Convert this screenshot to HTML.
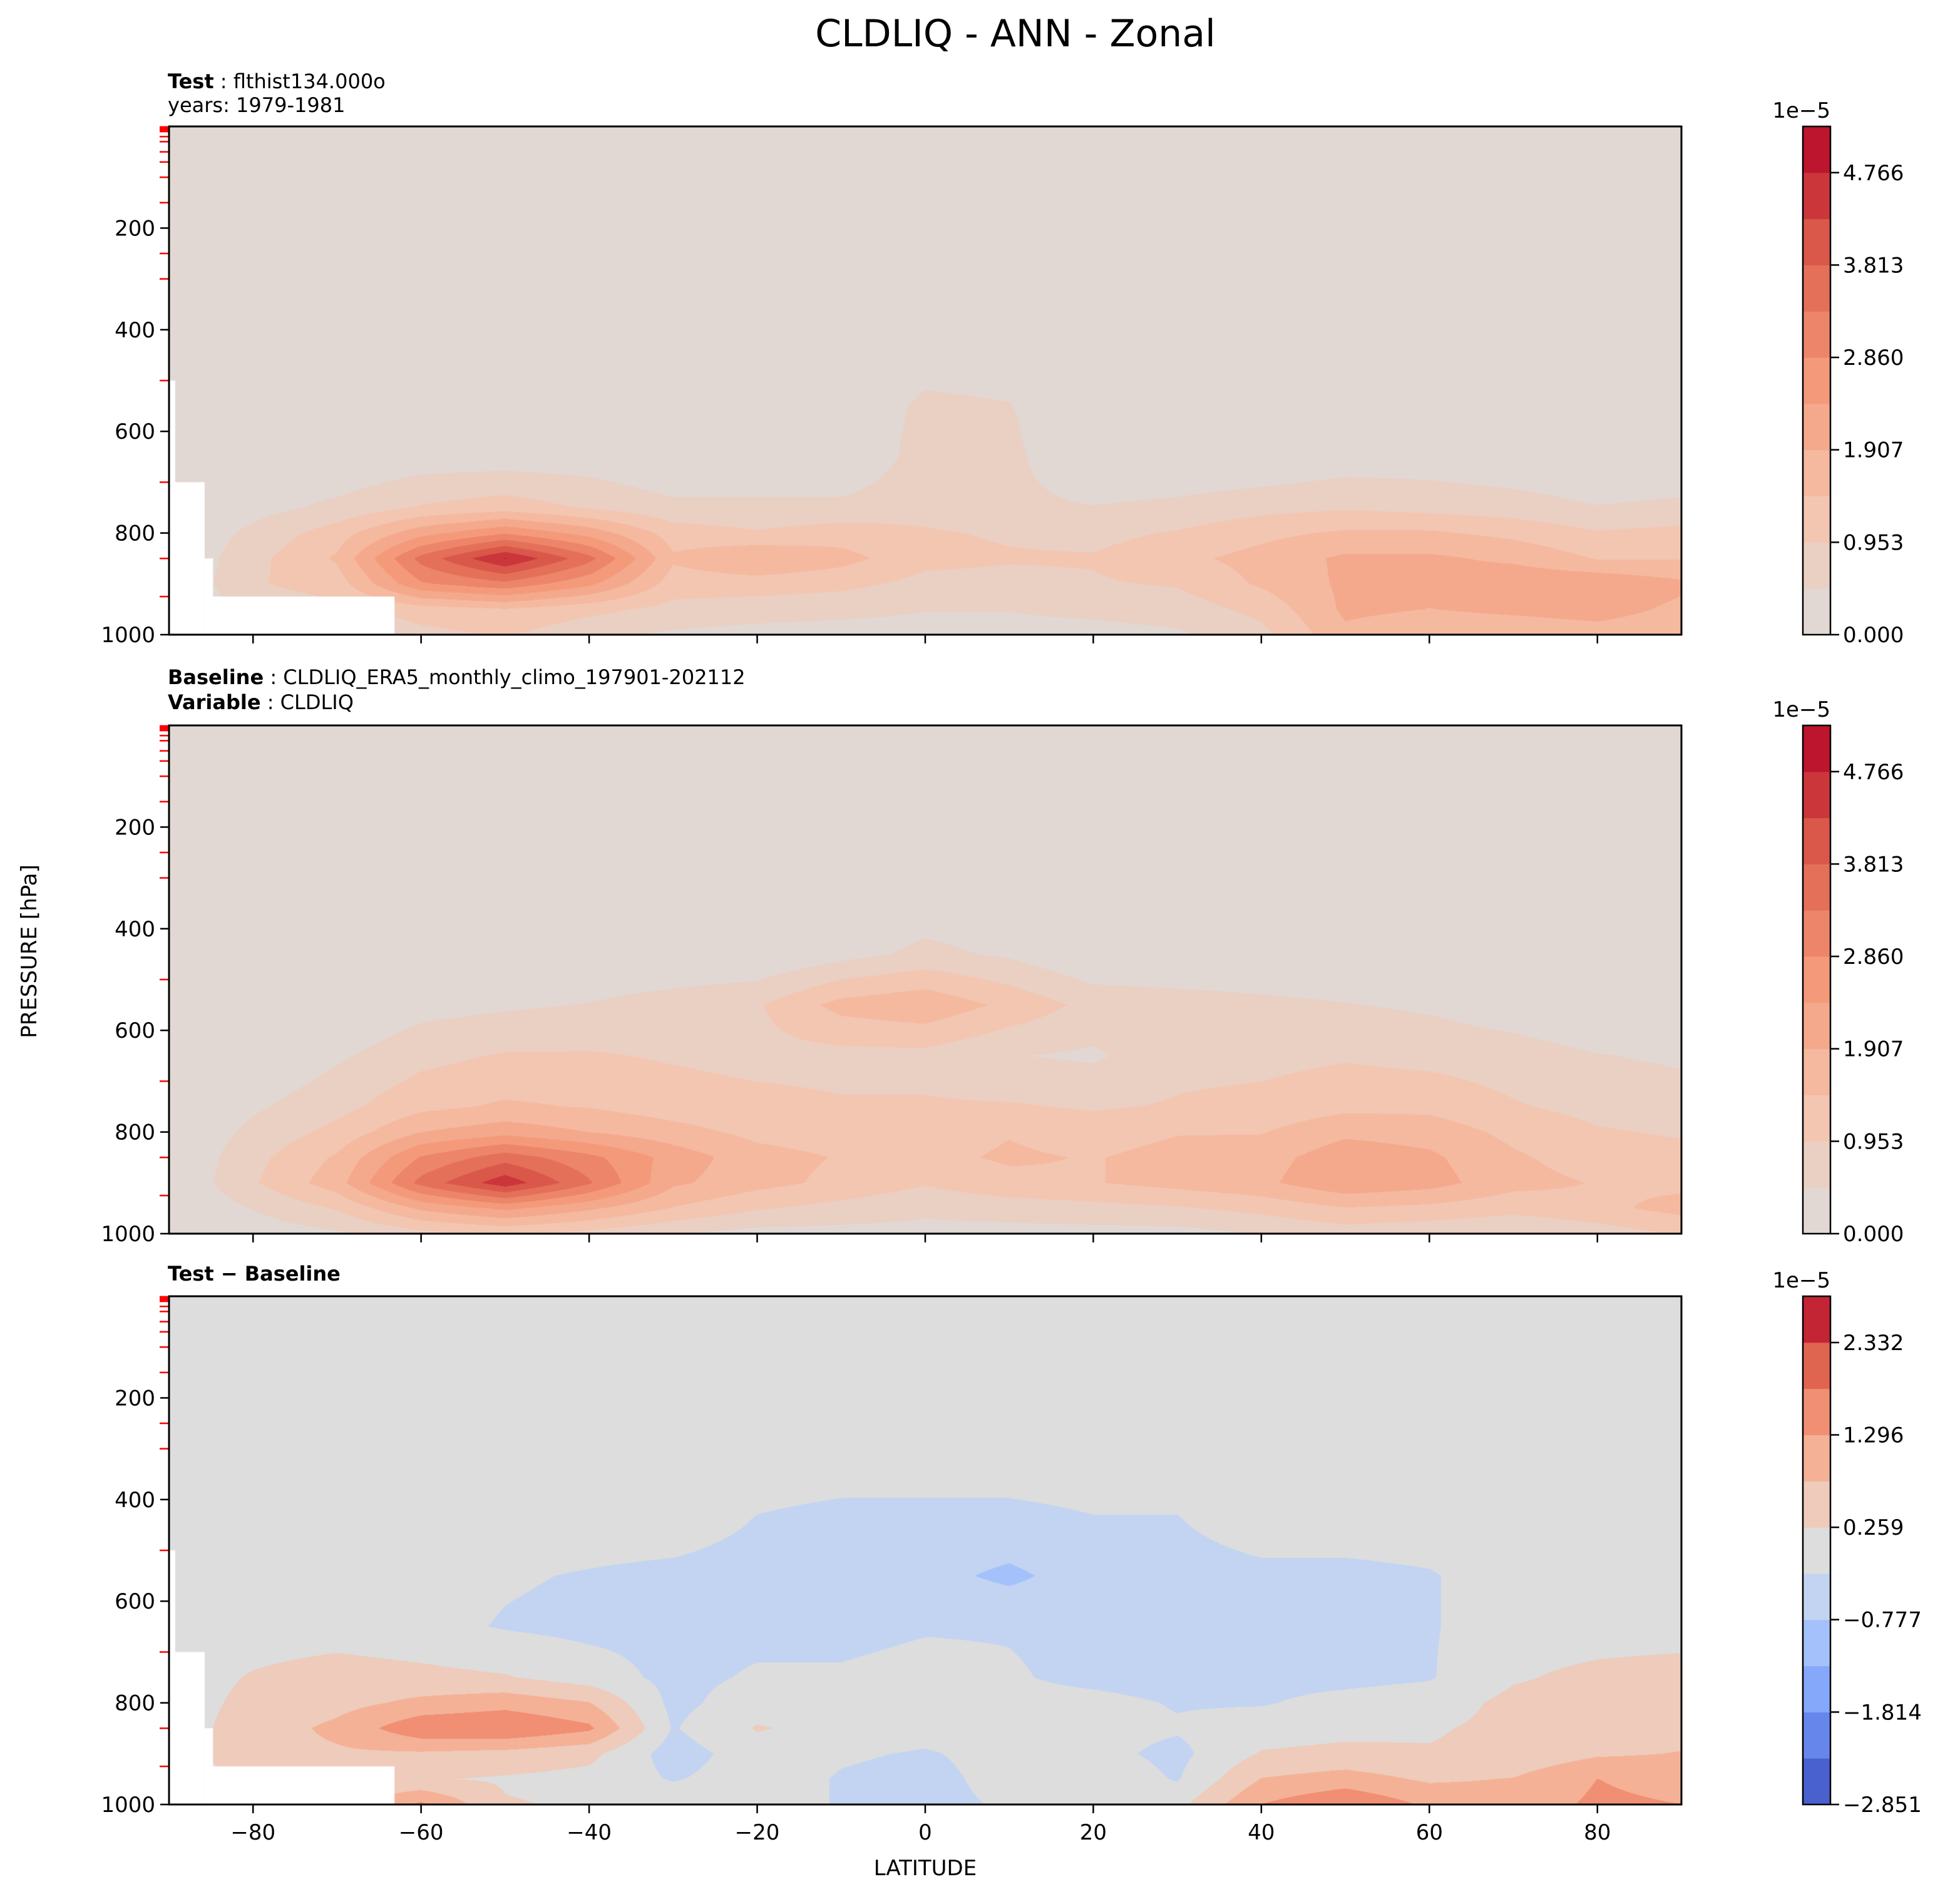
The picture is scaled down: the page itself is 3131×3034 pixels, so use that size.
<!DOCTYPE html>
<html><head><meta charset="utf-8">
<style>
html,body{margin:0;padding:0;background:#fff;}
#root{position:relative;width:3131px;height:3034px;overflow:hidden;background:#fff;}
canvas{position:absolute;}
svg{position:absolute;left:0;top:0;}
text{font-family:"DejaVu Sans","Liberation Sans",sans-serif;fill:#000;}
</style></head>
<body>
<div id="root">
<canvas id="c1" width="2416" height="812" style="left:270px;top:202px"></canvas>
<canvas id="c2" width="2416" height="812" style="left:270px;top:1159px"></canvas>
<canvas id="c3" width="2416" height="812" style="left:270px;top:2071px"></canvas>
<svg id="ov" width="3131" height="3034"></svg>
</div>
<script>
// ---- data (units 1e-5), rows = pressure levels, columns = latitudes ----
const lats = [-90,-80,-70,-60,-50,-40,-30,-20,-10,0,10,20,30,40,50,60,70,80,90];
const plevs = [0,300,450,550,650,750,800,850,900,950,1000];
const testField = [
 [0,0,0,0,0,0,0,0,0,0,0,0,0,0,0,0,0,0,0],
 [0,0,0,0,0,0,0,0,0,0,0,0,0,0,0,0,0,0,0],
 [0,0,0,0,0,0,0,0,0,0.2,0.2,0,0,0,0,0,0,0,0],
 [0,0,0,0,0,0,0,0,0,0.6,0.5,0,0,0,0,0,0,0,0],
 [0,0,0,0.2,0.2,0.2,0,0,0,0.7,0.6,0,0,0,0.2,0.2,0.1,0,0],
 [0,0.3,0.6,1.0,1.2,0.9,0.6,0.6,0.6,0.8,0.6,0.5,0.6,0.8,0.9,0.8,0.7,0.5,0.6],
 [0,0.6,1.2,2.2,2.8,2.2,1.2,1.0,1.2,1.0,0.9,0.8,1.0,1.3,1.5,1.5,1.3,1.0,1.1],
 [0,0.8,1.5,3.5,4.8,3.5,1.5,1.9,1.6,1.1,1.0,1.0,1.3,1.6,2.0,2.0,1.8,1.4,1.4],
 [0,0.9,1.2,2.8,3.2,2.5,1.2,1.2,1.1,0.8,0.8,0.9,1.0,1.5,2.0,2.0,2.3,2.3,2.0],
 [0,0.6,0.8,1.2,1.4,1.1,0.8,0.7,0.6,0.5,0.5,0.6,0.7,1.1,2.0,1.9,2.0,2.1,1.8],
 [0,0.3,0.4,0.8,1.0,0.6,0.4,0.3,0.3,0.3,0.3,0.3,0.4,0.8,1.8,1.6,1.6,1.7,1.6]
];
const baseField = [
 [0,0,0,0,0,0,0,0,0,0,0,0,0,0,0,0,0,0,0],
 [0,0,0,0,0,0,0,0,0,0,0,0,0,0,0,0,0,0,0],
 [0,0,0,0,0,0,0,0,0.3,0.6,0.4,0,0,0,0,0,0,0,0],
 [0,0,0,0.3,0.4,0.5,0.7,0.9,1.6,1.8,1.3,0.8,0.7,0.6,0.5,0.4,0.2,0,0],
 [0,0,0.4,0.8,1.0,1.0,0.9,0.8,0.8,0.8,0.5,0.4,0.8,0.8,0.9,0.8,0.7,0.5,0.4],
 [0,0.4,0.8,1.3,1.5,1.4,1.2,1.1,1.0,1.0,1.0,0.9,1.0,1.1,1.3,1.3,1.0,0.8,0.7],
 [0,0.6,1.1,1.9,2.2,1.9,1.6,1.3,1.2,1.2,1.4,1.2,1.4,1.4,1.8,1.7,1.3,1.0,0.9],
 [0,0.8,1.5,2.9,3.6,3.0,2.2,1.6,1.4,1.3,1.5,1.4,1.6,1.7,2.2,2.0,1.5,1.2,1.1],
 [0,0.9,1.7,3.5,4.6,3.4,2.0,1.6,1.3,1.0,1.3,1.4,1.6,1.8,2.3,2.1,1.6,1.4,1.3],
 [0,0.5,1.0,2.0,2.5,2.0,1.4,1.0,0.8,0.6,0.7,0.8,0.9,1.1,1.4,1.3,1.1,1.3,1.6],
 [0,0.2,0.4,0.8,1.0,0.8,0.5,0.3,0.3,0.3,0.3,0.3,0.3,0.5,0.7,0.6,0.5,0.7,1.0]
];
const diffField = [
 [0,0,0,0,0,0,0,0,0,0,0,0,0,0,0,0,0,0,0],
 [0,0,0,0,0,0,0,0,0,0,0,0,0,0,0,0,0,0,0],
 [0,0,0,0,0,0,0,-0.3,-0.4,-0.4,-0.4,-0.3,-0.3,0,0,0,0,0,0],
 [0,0,0,0,-0.2,-0.3,-0.4,-0.5,-0.7,-0.6,-0.9,-0.5,-0.5,-0.4,-0.4,-0.3,0,0,0],
 [0,0,0,-0.1,-0.3,-0.4,-0.4,-0.4,-0.4,-0.3,-0.3,-0.4,-0.4,-0.4,-0.4,-0.3,0,0,0],
 [0,0.3,0.5,0.4,0.3,0.0,-0.4,-0.2,-0.2,-0.1,-0.2,-0.4,-0.5,-0.4,-0.4,-0.3,0.2,0.4,0.5],
 [0,0.4,0.6,0.9,1.1,0.8,-0.4,0,0,0,-0.1,-0.1,-0.3,-0.3,-0.1,0,0.4,0.5,0.6],
 [0,0.5,0.9,1.7,1.8,1.4,-0.3,0.3,0.1,-0.1,0,-0.1,-0.2,0,0.1,0.2,0.4,0.5,0.6],
 [0,0.6,0.7,0.7,0.6,0.4,-0.5,0,-0.2,-0.3,-0.1,-0.1,-0.4,0.3,0.4,0.3,0.4,0.7,0.8],
 [0,0.3,0.4,0.3,0.2,0.1,-0.3,0,-0.3,-0.4,-0.1,0.1,-0.3,0.8,1.0,0.7,0.8,1.3,1.1],
 [0,0.2,0.5,1.4,0.3,0.2,0.1,0,-0.3,-0.4,-0.2,0.1,0.1,1.3,1.8,1.2,1.0,1.4,1.3]
];
const absEdges = [0,0.4766,0.9532,1.4298,1.9064,2.383,2.8596,3.3362,3.8128,4.2894,4.766,5.2426];
const absTicks = [0,0.953,1.907,2.860,3.813,4.766];
const absTickLabels = ["0.000","0.953","1.907","2.860","3.813","4.766"];
const diffEdges = [-2.851,-2.3326,-1.8142,-1.2958,-0.7774,-0.259,0.2594,0.7778,1.2962,1.8146,2.333,2.8514];
const diffTicks = [-2.851,-1.814,-0.777,0.259,1.296,2.332];
const diffTickLabels = ["\u22122.851","\u22121.814","\u22120.777","0.259","1.296","2.332"];
const yTicks = [200,400,600,800,1000];
const xTicks = [-80,-60,-40,-20,0,20,40,60,80];
const modelLevels = [1,2,3,4,5,7,10,20,30,50,70,100,150,250,300,500,700,850,925];
const maskSteps = [[-90,-89.3,500],[-89.3,-85.8,700],[-85.8,-84.8,850],[-84.8,-63.2,925]];

// ---- colormap ----
const cwAnch=[[0,59,76,192],[0.125,98,130,234],[0.25,141,176,254],[0.375,184,208,249],[0.5,221,221,221],[0.625,245,196,173],[0.75,244,154,123],[0.875,222,96,77],[1,180,4,38]];
function cw(t){for(let i=0;i<cwAnch.length-1;i++){const a=cwAnch[i],b=cwAnch[i+1];if(t<=b[0]){const f=(t-a[0])/(b[0]-a[0]);return [0,1,2].map(k=>Math.round(a[k+1]+(b[k+1]-a[k+1])*f));}}return [180,4,38];}
function binColors(n,half){const out=[];for(let i=0;i<n;i++){const f=(i+0.5)/n;out.push(half?cw(0.5+0.5*f):cw(f));}return out;}
const absColors=binColors(absEdges.length-1,true);
const diffColors=binColors(diffEdges.length-1,false);

// ---- geometry ----
const X0=270,X1=2686,CBX=2880,CBW=44;
const panels=[{top:202,h:812},{top:1159,h:812},{top:2071,h:812}];
function xOf(lat){return X0+(lat+90)/180*(X1-X0);}
function yOf(p,pan){return pan.top+p/1000*pan.h;}

function drawField(id,field,edges,colors,masked){
  const cv=document.getElementById(id),ctx=cv.getContext('2d');
  const W=cv.width,H=cv.height,img=ctx.createImageData(W,H),d=img.data;
  const li=new Int32Array(W),lf=new Float32Array(W);
  for(let x=0;x<W;x++){const lat=-90+(x+0.5)/W*180;let f=(lat-lats[0])/10;let i=Math.min(Math.floor(f),lats.length-2);li[x]=i;lf[x]=f-i;}
  for(let y=0;y<H;y++){
    const p=(y+0.5)/H*1000;let j=0;while(j<plevs.length-2&&p>plevs[j+1])j++;
    const g=(p-plevs[j])/(plevs[j+1]-plevs[j]);
    const r0=field[j],r1=field[j+1];
    for(let x=0;x<W;x++){
      const i=li[x],f=lf[x];
      const v=(r0[i]*(1-f)+r0[i+1]*f)*(1-g)+(r1[i]*(1-f)+r1[i+1]*f)*g;
      let b=0;while(b<colors.length-1&&v>=edges[b+1])b++;
      const c=colors[b],o=(y*W+x)*4;d[o]=c[0];d[o+1]=c[1];d[o+2]=c[2];d[o+3]=255;
    }
  }
  ctx.putImageData(img,0,0);
  if(masked){ctx.fillStyle='#fff';for(const s of maskSteps){const xa=(s[0]+90)/180*W,xb=(s[1]+90)/180*W,ya=s[2]/1000*H;ctx.fillRect(xa,ya,xb-xa+0.5,H-ya);}}
}
drawField('c1',testField,absEdges,absColors,true);
drawField('c2',baseField,absEdges,absColors,false);
drawField('c3',diffField,diffEdges,diffColors,true);

// ---- SVG overlay ----
const NS='http://www.w3.org/2000/svg',svg=document.getElementById('ov');
function el(tag,attrs,parent){const e=document.createElementNS(NS,tag);for(const k in attrs)e.setAttribute(k,attrs[k]);(parent||svg).appendChild(e);return e;}
function txt(s,attrs,parent){const e=el('text',attrs,parent);e.textContent=s;return e;}

const title=txt('CLDLIQ - ANN - Zonal',{x:1622,y:74,'font-size':60,'text-anchor':'middle'});



const cfgs=[
 {edges:absEdges,colors:absColors,ticks:absTicks,labels:absTickLabels,xlabels:false},
 {edges:absEdges,colors:absColors,ticks:absTicks,labels:absTickLabels,xlabels:false},
 {edges:diffEdges,colors:diffColors,ticks:diffTicks,labels:diffTickLabels,xlabels:true}
];
panels.forEach((pan,k)=>{
  const cfg=cfgs[k];
  const g=el('g',{});
  
  
  modelLevels.forEach(p=>{
    const t=el('line',{x1:X0-15,x2:X0,y1:yOf(p,pan),y2:yOf(p,pan),stroke:'#f00','stroke-width':2.5},g);
    
    
  });
  const fr=el('rect',{x:X0,y:pan.top,width:X1-X0,height:pan.h,fill:'none',stroke:'#000','stroke-width':3},g);
  
  
  yTicks.forEach(p=>{
    const y=yOf(p,pan);
    el('line',{x1:X0-14,x2:X0,y1:y,y2:y,stroke:'#000','stroke-width':2.5},g);
    const l=txt(String(p),{x:X0-22,y:y+12,'font-size':34,'text-anchor':'end'},g);
    
    
  });
  xTicks.forEach(v=>{
    const x=xOf(v),yb=pan.top+pan.h;
    el('line',{x1:x,x2:x,y1:yb,y2:yb+14,stroke:'#000','stroke-width':2.5},g);
    if(cfg.xlabels){
      const l=txt(v<0?'\u2212'+Math.abs(v):String(v),{x:x,y:yb+56,'font-size':34,'text-anchor':'middle'},g);
      
      
    }
  });
  const cb=el('g',{},g);
  
  
  const lo=cfg.edges[0],hi=cfg.edges[cfg.edges.length-1];
  const cy=v=>pan.top+pan.h-(v-lo)/(hi-lo)*pan.h;
  cfg.colors.forEach((c,i)=>{
    const r=el('rect',{x:CBX,y:cy(cfg.edges[i+1]),width:CBW,height:cy(cfg.edges[i])-cy(cfg.edges[i+1])+0.5,fill:'rgb('+c.join(',')+')'},cb);
    
    
  });
  el('rect',{x:CBX,y:pan.top,width:CBW,height:pan.h,fill:'none',stroke:'#000','stroke-width':2.5},cb);
  cfg.ticks.forEach((v,i)=>{
    const y=cy(v);
    el('line',{x1:CBX+CBW,x2:CBX+CBW+14,y1:y,y2:y,stroke:'#000','stroke-width':2.5},cb);
    const l=txt(cfg.labels[i],{x:CBX+CBW+20,y:y+12,'font-size':34},cb);
    
    
  });
  const ex=txt('1e\u22125',{x:CBX+CBW,y:pan.top-14,'font-size':34,'text-anchor':'end'},cb);
  
  
});

function subtitle(bold,rest,x,y,name){
  const t=el('text',{x:x,y:y,'font-size':32});
  
  
  const b=el('tspan',{'font-weight':'bold'},t);b.textContent=bold;
  const r=el('tspan',{},t);r.textContent=rest;
}
subtitle('Test',' : flthist134.000o',268,141,'test-case-label');
const yrs=txt('years: 1979-1981',{x:268,y:179,'font-size':32});


subtitle('Baseline',' : CLDLIQ_ERA5_monthly_climo_197901-202112',268,1093,'baseline-case-label');
subtitle('Variable',' : CLDLIQ',268,1133,'variable-label');
subtitle('Test \u2212 Baseline','',268,2046,'difference-label');

const yl=txt('PRESSURE [hPa]',{x:0,y:0,'font-size':34,'text-anchor':'middle',transform:'translate(58,1520) rotate(-90)'});


const xl=txt('LATITUDE',{x:1478,y:2996,'font-size':34,'text-anchor':'middle'});


</script>
</body></html>
